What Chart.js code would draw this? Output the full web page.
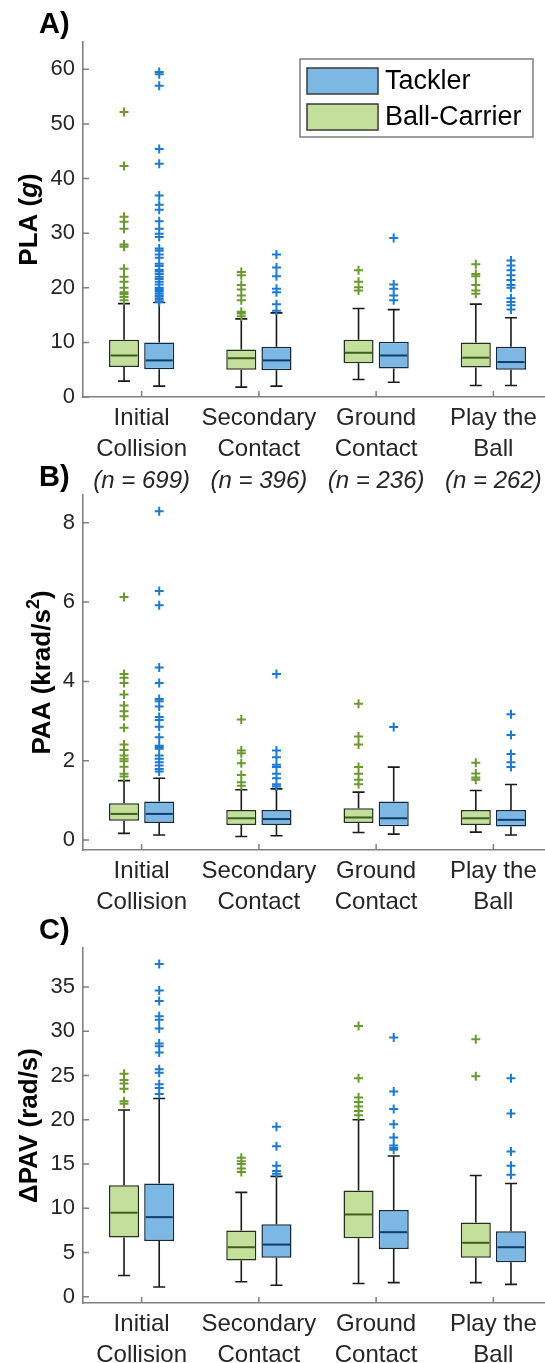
<!DOCTYPE html>
<html>
<head>
<meta charset="utf-8">
<script src="https://cdn.jsdelivr.net/npm/chart.js@4.4.0/dist/chart.umd.min.js"></script>
<style>
html, body { margin: 0; padding: 0; background: #fff; overflow: hidden; }
body { width: 545px; height: 1363px; position: relative; }
canvas { position: absolute; left: 0; }
</style>
</head>
<body>
<canvas id="chartA" width="552" height="500" style="top:0px"></canvas>
<canvas id="chartB" width="552" height="475" style="top:453px"></canvas>
<canvas id="chartC" width="552" height="457" style="top:906px"></canvas>
<script>
const categories = [['Initial', 'Collision'], ['Secondary', 'Contact'], ['Ground', 'Contact'], ['Play the', 'Ball']];
const sampleSizes = ['(n = 699)', '(n = 396)', '(n = 236)', '(n = 262)'];
const groups = ['Ball-Carrier', 'Tackler'];

// A) PLA (g)
const plaTicks = [0, 10, 20, 30, 40, 50, 60];
const plaBallMin = [2.9, 1.8, 3.2, 2.1];
const plaBallQ1 = [5.5, 5.0, 6.2, 5.4];
const plaBallMed = [7.6, 7.1, 8.1, 7.2];
const plaBallQ3 = [10.5, 8.7, 10.5, 10.0];
const plaBallMax = [17.1, 14.3, 16.2, 17.0];
const plaBallOut = [
  [52.2, 42.3, 33.0, 32.1, 30.8, 27.9, 27.5, 23.5, 22.0, 21.1, 20.0, 19.2, 19.0, 18.8, 18.3, 17.7],
  [22.9, 22.3, 20.5, 19.7, 18.6, 17.7, 15.6, 15.3, 14.8],
  [23.2, 21.1, 20.1, 19.5],
  [24.3, 22.5, 22.1, 20.5, 19.5, 18.9]
];
const plaTackMin = [2.0, 2.0, 2.7, 2.1];
const plaTackQ1 = [5.1, 4.9, 5.2, 5.0];
const plaTackMed = [6.7, 6.7, 7.6, 6.4];
const plaTackQ3 = [10.0, 9.2, 10.1, 9.2];
const plaTackMax = [17.3, 15.4, 16.0, 14.5];
const plaTackOut = [
  [59.5, 59.1, 57.0, 45.4, 42.7, 36.9, 35.2, 34.3, 32.2, 30.8, 29.9, 29.3, 27.2, 26.8, 26.1, 25.5, 24.4, 24.0, 23.3, 23.0, 22.5, 22.0, 21.6, 21.1, 20.6, 20.0, 19.7, 19.5, 19.3, 18.9, 18.5, 18.1, 17.8, 17.4],
  [26.1, 23.7, 22.1, 19.8, 19.2, 17.0, 15.8],
  [29.1, 20.6, 19.8, 18.6, 17.7],
  [25.0, 24.1, 23.2, 22.3, 21.4, 20.5, 20.0, 18.1, 17.4, 16.8, 16.0]
];

// B) PAA (krad/s^2)
const paaTicks = [0, 2, 4, 6, 8];
const paaBallMin = [0.17, 0.09, 0.19, 0.20];
const paaBallQ1 = [0.49, 0.38, 0.43, 0.38];
const paaBallMed = [0.66, 0.55, 0.57, 0.55];
const paaBallQ3 = [0.93, 0.76, 0.80, 0.76];
const paaBallMax = [1.50, 1.27, 1.21, 1.25];
const paaBallOut = [
  [6.13, 4.19, 4.09, 3.96, 3.67, 3.39, 3.25, 3.12, 2.83, 2.41, 2.27, 2.13, 2.05, 1.99, 1.85, 1.67, 1.60],
  [3.04, 2.26, 2.19, 1.94, 1.64, 1.46, 1.37],
  [3.44, 2.61, 2.41, 1.84, 1.67, 1.52, 1.41],
  [1.95, 1.68, 1.58, 1.52]
];
const paaTackMin = [0.13, 0.11, 0.15, 0.13];
const paaTackQ1 = [0.43, 0.38, 0.35, 0.34];
const paaTackMed = [0.66, 0.53, 0.55, 0.51];
const paaTackQ3 = [0.97, 0.76, 0.97, 0.76];
const paaTackMax = [1.56, 1.29, 1.84, 1.40];
const paaTackOut = [
  [8.29, 6.28, 5.92, 4.35, 3.96, 3.56, 3.50, 3.37, 3.10, 3.03, 2.86, 2.59, 2.38, 2.34, 2.30, 2.13, 2.05, 1.96, 1.88, 1.79, 1.73],
  [4.19, 2.26, 2.09, 1.90, 1.84, 1.67, 1.56, 1.41, 1.35],
  [2.85],
  [3.17, 2.65, 2.17, 1.96, 1.84]
];

// C) dPAV (rad/s)
const pavTicks = [0, 5, 10, 15, 20, 25, 30, 35];
const pavBallMin = [2.4, 1.7, 1.5, 1.6];
const pavBallQ1 = [6.7, 4.1, 6.6, 4.4];
const pavBallMed = [9.5, 5.6, 9.3, 6.1];
const pavBallQ3 = [12.6, 7.5, 12.0, 8.4];
const pavBallMax = [21.1, 11.8, 20.0, 13.7];
const pavBallOut = [
  [25.2, 24.5, 24.1, 23.5, 22.1, 21.8],
  [15.7, 15.3, 15.0, 14.5, 14.1],
  [30.6, 24.7, 22.5, 22.0, 21.5, 21.0, 20.5],
  [29.1, 24.9]
];
const pavTackMin = [1.1, 1.3, 1.6, 1.4];
const pavTackQ1 = [6.3, 4.4, 5.4, 3.9];
const pavTackMed = [9.0, 5.9, 7.3, 5.6];
const pavTackQ3 = [12.8, 8.2, 9.8, 7.4];
const pavTackMax = [22.4, 13.6, 15.9, 12.8];
const pavTackOut = [
  [37.6, 34.6, 33.4, 31.7, 31.3, 30.3, 28.6, 28.3, 27.6, 25.7, 25.3, 24.0, 23.6, 22.9],
  [19.2, 17.0, 14.8, 14.2, 13.9],
  [29.3, 23.2, 21.2, 19.5, 18.0, 17.1, 16.8, 16.6],
  [24.7, 20.7, 16.4, 14.8, 13.8]
];

const FONT = '"Liberation Sans", Arial, Helvetica, sans-serif';
const TXT = '#262626';
const AXIS = '#808080';
const green = { fill: '#c4df9b', edge: '#22301a', med: '#3c5e20', out: '#6a9a2e' };
const blue = { fill: '#7cb8e3', edge: '#142a3c', med: '#0d3d68', out: '#1c7bd0' };

function boxPlugin(p) {
  return {
    id: 'boxes' + p.id,
    afterDatasetsDraw(chart) {
      const ctx = chart.ctx, y = chart.scales.y;
      chart.data.datasets.forEach((ds, di) => {
        const s = p.stats[di];
        chart.getDatasetMeta(di).data.forEach((bar, i) => {
          const x = bar.x, half = bar.width / 2;
          const yq1 = y.getPixelForValue(ds.data[i][0]);
          const yq3 = y.getPixelForValue(ds.data[i][1]);
          const ylo = y.getPixelForValue(s.min[i]);
          const yhi = y.getPixelForValue(s.max[i]);
          const cap = half * 0.4;
          ctx.save();
          ctx.strokeStyle = '#1a1a1a';
          ctx.lineWidth = 1.6;
          ctx.beginPath();
          ctx.moveTo(x, yq3); ctx.lineTo(x, yhi);
          ctx.moveTo(x, yq1); ctx.lineTo(x, ylo);
          ctx.moveTo(x - cap, yhi); ctx.lineTo(x + cap, yhi);
          ctx.moveTo(x - cap, ylo); ctx.lineTo(x + cap, ylo);
          ctx.stroke();
          const ym = y.getPixelForValue(s.med[i]);
          ctx.strokeStyle = s.color.med;
          ctx.lineWidth = 2;
          ctx.beginPath();
          ctx.moveTo(x - half + 1.5, ym); ctx.lineTo(x + half - 1.5, ym);
          ctx.stroke();
          ctx.strokeStyle = s.color.out;
          ctx.lineWidth = 2;
          ctx.beginPath();
          s.out[i].forEach(v => {
            const py = y.getPixelForValue(v);
            ctx.moveTo(x - 4.5, py); ctx.lineTo(x + 4.5, py);
            ctx.moveTo(x, py - 4.5); ctx.lineTo(x, py + 4.5);
          });
          ctx.stroke();
          ctx.restore();
        });
      });
    },
    afterDraw(chart) {
      const ctx = chart.ctx, area = chart.chartArea;
      const x = chart.scales.x, y = chart.scales.y;
      ctx.save();
      // inward ticks
      ctx.strokeStyle = AXIS;
      ctx.lineWidth = 1.5;
      ctx.beginPath();
      y.ticks.forEach(t => {
        const py = y.getPixelForValue(t.value);
        ctx.moveTo(area.left, py); ctx.lineTo(area.left + 6, py);
      });
      categories.forEach((c, i) => {
        const px = x.getPixelForValue(i);
        ctx.moveTo(px, area.bottom); ctx.lineTo(px, area.bottom - 6);
      });
      ctx.stroke();

      // panel letter
      ctx.fillStyle = '#000';
      ctx.font = 'bold 29px ' + FONT;
      ctx.textBaseline = 'middle';
      ctx.textAlign = 'left';
      ctx.fillText(p.letter, 39, area.top - 17);

      // y title with mixed styles
      ctx.save();
      ctx.translate(p.titleX, (area.top + area.bottom) / 2);
      ctx.rotate(-Math.PI / 2);
      ctx.textBaseline = 'alphabetic';
      ctx.fillStyle = '#000';
      let total = 0;
      p.title.forEach(part => { ctx.font = part.font; total += ctx.measureText(part.text).width; });
      let cx = -total / 2;
      p.title.forEach(part => {
        ctx.font = part.font;
        ctx.fillText(part.text, cx, part.rise || 0);
        cx += ctx.measureText(part.text).width;
      });
      ctx.restore();

      // sample sizes under categories
      if (p.counts) {
        ctx.font = 'italic 24px ' + FONT;
        ctx.fillStyle = TXT;
        ctx.textAlign = 'center';
        p.counts.forEach((n, i) => ctx.fillText(n, x.getPixelForValue(i), area.bottom + 84));
      }

      // legend, Tackler first
      if (p.legend) {
        const lx = 300, ly = area.top + 17, lw = 233, lh = 78;
        ctx.fillStyle = '#fff';
        ctx.fillRect(lx, ly, lw, lh);
        ctx.strokeStyle = '#7f7f7f';
        ctx.lineWidth = 1.5;
        ctx.strokeRect(lx, ly, lw, lh);
        const items = chart.data.datasets.slice().reverse();
        items.forEach((ds, k) => {
          const sy = ly + 9 + k * 36;
          ctx.fillStyle = ds.backgroundColor;
          ctx.fillRect(lx + 7, sy, 71, 26);
          ctx.strokeStyle = '#3a3a3a';
          ctx.lineWidth = 1.5;
          ctx.strokeRect(lx + 7, sy, 71, 26);
          ctx.fillStyle = '#000';
          ctx.font = '27px ' + FONT;
          ctx.textAlign = 'left';
          ctx.textBaseline = 'middle';
          ctx.fillText(ds.label, lx + 85, sy + 14);
        });
      }
      ctx.restore();
    }
  };
}

function makeChart(p) {
  const canvas = document.getElementById(p.id);
  const bottomSpace = canvas.height - 397;
  const datasets = p.stats.map((s, di) => ({
    label: groups[di],
    data: s.q1.map((v, i) => [v, s.q3[i]]),
    backgroundColor: s.color.fill,
    borderColor: s.color.edge,
    borderWidth: 1.5,
    borderSkipped: false,
    categoryPercentage: 0.6,
    barPercentage: 0.855
  }));
  return new Chart(canvas, {
    type: 'bar',
    data: { labels: categories, datasets: datasets },
    options: {
      responsive: false,
      animation: false,
      layout: { padding: { top: 42, left: 0, right: 0, bottom: 0 } },
      plugins: { legend: { display: false }, tooltip: { enabled: false } },
      scales: {
        x: {
          grid: { display: false, drawTicks: false },
          border: { display: true, color: AXIS, width: 1.6 },
          ticks: { color: TXT, font: { family: FONT, size: 24, lineHeight: 1.3 }, padding: 6, maxRotation: 0, autoSkip: false },
          afterFit: s => { s.height = bottomSpace; }
        },
        y: {
          min: p.min,
          max: p.max,
          grid: { display: false, drawTicks: false },
          border: { display: true, color: AXIS, width: 1.6 },
          ticks: { color: TXT, font: { family: FONT, size: 22 }, padding: 8 },
          afterBuildTicks: s => { s.ticks = p.ticks.map(v => ({ value: v })); },
          afterFit: s => { s.width = 83; }
        }
      }
    },
    plugins: [boxPlugin(p)]
  });
}

const bold = 'bold 26px ' + FONT;

makeChart({
  id: 'chartA', letter: 'A)', min: 0, max: 65, ticks: plaTicks, titleX: 37, legend: true, counts: sampleSizes,
  title: [{ text: 'PLA (', font: bold }, { text: 'g', font: 'italic bold 26px ' + FONT }, { text: ')', font: bold }],
  stats: [
    { color: green, min: plaBallMin, q1: plaBallQ1, med: plaBallMed, q3: plaBallQ3, max: plaBallMax, out: plaBallOut },
    { color: blue, min: plaTackMin, q1: plaTackQ1, med: plaTackMed, q3: plaTackQ3, max: plaTackMax, out: plaTackOut }
  ]
});

makeChart({
  id: 'chartB', letter: 'B)', min: -0.25, max: 8.7, ticks: paaTicks, titleX: 50,
  title: [{ text: 'PAA (krad/s', font: bold }, { text: '2', font: 'bold 18px ' + FONT, rise: -11 }, { text: ')', font: bold }],
  stats: [
    { color: green, min: paaBallMin, q1: paaBallQ1, med: paaBallMed, q3: paaBallQ3, max: paaBallMax, out: paaBallOut },
    { color: blue, min: paaTackMin, q1: paaTackQ1, med: paaTackMed, q3: paaTackQ3, max: paaTackMax, out: paaTackOut }
  ]
});

makeChart({
  id: 'chartC', letter: 'C)', min: -0.7, max: 39.4, ticks: pavTicks, titleX: 37,
  title: [{ text: '\u0394PAV (rad/s)', font: bold }],
  stats: [
    { color: green, min: pavBallMin, q1: pavBallQ1, med: pavBallMed, q3: pavBallQ3, max: pavBallMax, out: pavBallOut },
    { color: blue, min: pavTackMin, q1: pavTackQ1, med: pavTackMed, q3: pavTackQ3, max: pavTackMax, out: pavTackOut }
  ]
});
</script>
</body>
</html>
